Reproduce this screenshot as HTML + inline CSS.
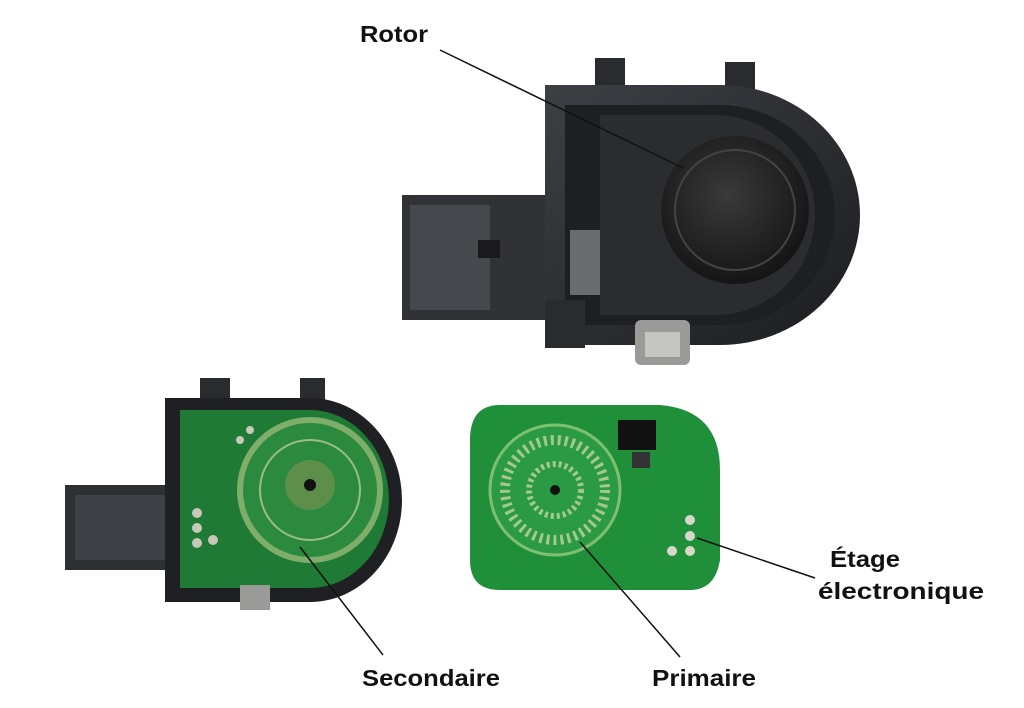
<!DOCTYPE html>
<html><head><meta charset="utf-8"><style>
html,body{margin:0;padding:0;background:#fff;}
svg{display:block;}
text{font-family:"Liberation Sans",sans-serif;font-weight:bold;font-size:23px;fill:#111;}
</style></head><body>
<svg width="1024" height="708" viewBox="0 0 1024 708" xmlns="http://www.w3.org/2000/svg">
<defs>
<radialGradient id="rot" cx="0.45" cy="0.4" r="0.6"><stop offset="0" stop-color="#3a3a3a"/><stop offset="1" stop-color="#151515"/></radialGradient>
<linearGradient id="hous" x1="0" y1="0" x2="1" y2="1"><stop offset="0" stop-color="#3c3f44"/><stop offset="1" stop-color="#1c1d20"/></linearGradient>
</defs>
<rect width="1024" height="708" fill="#fff"/>

<rect x="595" y="58" width="30" height="35" fill="#2a2b2e"/>
<rect x="725" y="62" width="30" height="35" fill="#2a2b2e"/>
<rect x="402" y="195" width="160" height="125" fill="#303236"/>
<rect x="410" y="205" width="80" height="105" fill="#45484c"/>
<rect x="478" y="240" width="22" height="18" fill="#1a1a1c"/>
<path d="M545 85 L720 85 A140 130 0 0 1 720 345 L545 345 Z" fill="url(#hous)"/>
<path d="M565 105 L720 105 A115 110 0 0 1 720 325 L565 325 Z" fill="#1e1f22"/>
<path d="M600 115 L715 115 A100 100 0 0 1 715 315 L600 315 Z" fill="#2b2c30"/>
<circle cx="735" cy="210" r="74" fill="url(#rot)"/>
<circle cx="735" cy="210" r="60" fill="none" stroke="#444" stroke-width="2"/>
<rect x="570" y="230" width="30" height="65" fill="#6a6c70"/>
<rect x="545" y="300" width="40" height="48" fill="#2a2b2e"/>
<rect x="635" y="320" width="55" height="45" rx="6" fill="#9a9a98"/>
<rect x="645" y="332" width="35" height="25" fill="#c5c5c2"/>

<rect x="200" y="378" width="30" height="30" fill="#2a2b2e"/>
<rect x="300" y="378" width="25" height="30" fill="#2a2b2e"/>
<rect x="65" y="485" width="110" height="85" fill="#2d2f33"/>
<rect x="75" y="495" width="90" height="65" fill="#3e4145"/>
<path d="M165 398 L310 398 A92 102 0 0 1 310 602 L165 602 Z" fill="#1f2023"/>
<path d="M180 410 L310 410 A78 88 0 0 1 310 588 L180 588 Z" fill="#1f7a36"/>
<circle cx="310" cy="490" r="70" fill="#2b8a3e" stroke="#7fae6a" stroke-width="6"/>
<circle cx="310" cy="490" r="50" fill="none" stroke="#9bbd85" stroke-width="2"/>
<circle cx="310" cy="485" r="25" fill="#5d8f4a"/>
<circle cx="310" cy="485" r="6" fill="#111"/>
<g fill="#c8c8b8"><circle cx="197" cy="513" r="5"/><circle cx="197" cy="528" r="5"/><circle cx="213" cy="540" r="5"/><circle cx="197" cy="543" r="5"/><circle cx="240" cy="440" r="4"/><circle cx="250" cy="430" r="4"/></g>
<rect x="240" y="585" width="30" height="25" fill="#9a9a98"/>

<path d="M500 405 L660 405 Q720 410 720 470 L720 560 Q715 590 690 590 L500 590 Q470 590 470 560 L470 440 Q470 405 500 405 Z" fill="#1f8f3a"/>
<circle cx="555" cy="490" r="65" fill="#2a9a45" stroke="#7fbf6f" stroke-width="3"/>
<circle cx="555" cy="490" r="50" fill="none" stroke="#a5c98a" stroke-width="10" stroke-dasharray="3 4"/>
<circle cx="555" cy="490" r="26" fill="none" stroke="#a5c98a" stroke-width="6" stroke-dasharray="3 3"/>
<circle cx="555" cy="490" r="5" fill="#111"/>
<rect x="618" y="420" width="38" height="30" fill="#111"/>
<rect x="632" y="452" width="18" height="16" fill="#333"/>
<g fill="#d8d8c8"><circle cx="690" cy="520" r="5"/><circle cx="690" cy="536" r="5"/><circle cx="690" cy="551" r="5"/><circle cx="672" cy="551" r="5"/></g>

<g stroke="#111" stroke-width="1.5" fill="none">
<line x1="440" y1="50" x2="683" y2="168"/>
<line x1="300" y1="547" x2="383" y2="655"/>
<line x1="580" y1="542" x2="680" y2="657"/>
<line x1="697" y1="538" x2="815" y2="578"/>
</g>

<text x="360" y="42" textLength="68" lengthAdjust="spacingAndGlyphs">Rotor</text>
<text x="362" y="686" textLength="138" lengthAdjust="spacingAndGlyphs">Secondaire</text>
<text x="652" y="686" textLength="104" lengthAdjust="spacingAndGlyphs">Primaire</text>
<text x="830" y="567" textLength="70" lengthAdjust="spacingAndGlyphs">Étage</text>
<text x="818" y="599" textLength="166" lengthAdjust="spacingAndGlyphs">électronique</text>
</svg>
</body></html>
